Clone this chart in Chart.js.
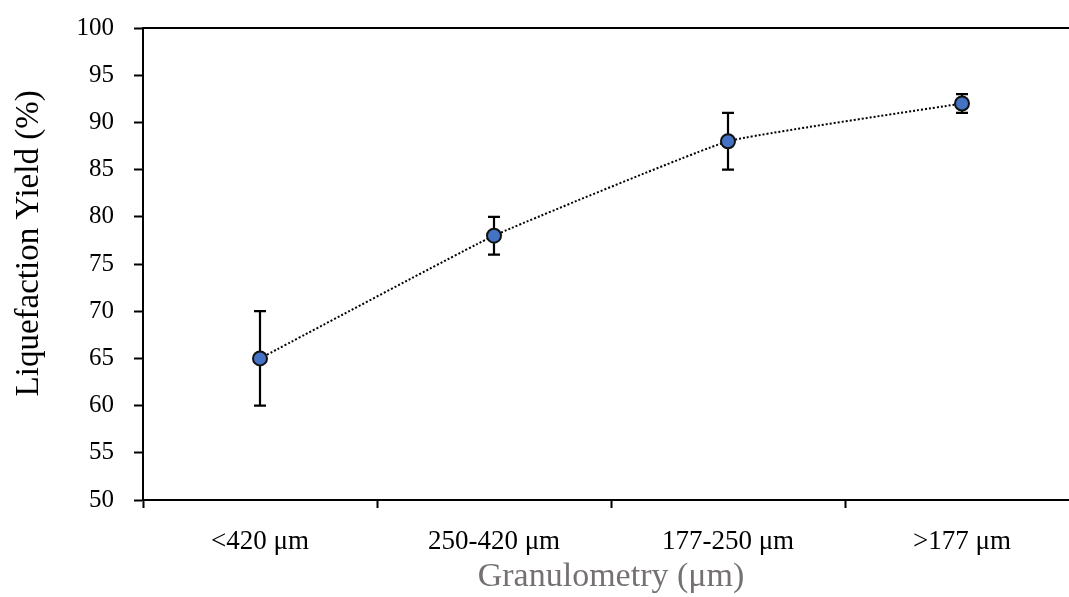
<!DOCTYPE html>
<html>
<head>
<meta charset="utf-8">
<script src="https://cdn.jsdelivr.net/npm/chart.js@4/dist/chart.umd.min.js"></script>
<style>
  html, body { margin: 0; padding: 0; overflow: hidden; background: #fff; }
  canvas { display: block; }
</style>
</head>
<body>
<canvas id="yieldChart" width="1088" height="597"></canvas>
<script>
const categories = ["<420 μm", "250-420 μm", "177-250 μm", ">177 μm"];
const yieldValues = [65, 78, 88, 92];
const yieldErrors = [5, 2, 3, 1];
const yTicks = [50, 55, 60, 65, 70, 75, 80, 85, 90, 95, 100];

const serif = "'Liberation Serif', 'Times New Roman', serif";

// vertical error bars drawn through the y scale
const errorBars = {
  id: "errorBars",
  beforeDatasetsDraw(chart) {
    const ctx = chart.ctx;
    const y = chart.scales.y;
    const meta = chart.getDatasetMeta(0);
    ctx.save();
    ctx.strokeStyle = "#000";
    ctx.lineWidth = 2.2;
    meta.data.forEach((pt, i) => {
      const top = y.getPixelForValue(yieldValues[i] + yieldErrors[i]);
      const bot = y.getPixelForValue(yieldValues[i] - yieldErrors[i]);
      ctx.beginPath();
      ctx.moveTo(pt.x, top);
      ctx.lineTo(pt.x, bot);
      ctx.moveTo(pt.x - 6, top);
      ctx.lineTo(pt.x + 6, top);
      ctx.moveTo(pt.x - 6, bot);
      ctx.lineTo(pt.x + 6, bot);
      ctx.stroke();
    });
    ctx.restore();
  }
};

function noPad(scale) {
  scale.paddingTop = 0;
  scale.paddingBottom = 0;
  scale.paddingLeft = 0;
  scale.paddingRight = 0;
}

new Chart(document.getElementById("yieldChart"), {
  type: "line",
  data: {
    labels: categories,
    datasets: [{
      data: yieldValues,
      borderColor: "#000",
      borderWidth: 2,
      borderDash: [2, 2],
      tension: 0.1,
      pointRadius: 7,
      pointHoverRadius: 7,
      pointBorderWidth: 2,
      pointBackgroundColor: "#4472C4",
      pointBorderColor: "#111"
    }]
  },
  options: {
    responsive: false,
    animation: false,
    layout: { padding: { top: 28, left: 0, right: 0, bottom: 0 } },
    plugins: {
      legend: { display: false },
      tooltip: { enabled: false }
    },
    scales: {
      x: {
        type: "category",
        offset: true,
        grid: {
          offset: true,
          drawOnChartArea: false,
          tickLength: 8,
          tickWidth: 2,
          tickColor: "#000"
        },
        border: { color: "#000", width: 2 },
        ticks: {
          color: "#000",
          padding: 18,
          font: { family: serif, size: 27 }
        },
        title: {
          display: true,
          text: "Granulometry (μm)",
          color: "#767171",
          padding: 0,
          font: { family: serif, size: 34 }
        },
        afterFit(scale) { scale.height = 97; noPad(scale); }
      },
      x2: {
        type: "category",
        position: "top",
        grid: { display: false },
        ticks: { display: false },
        border: { color: "#000", width: 2 },
        afterFit(scale) { scale.height = 0; noPad(scale); }
      },
      y: {
        min: 50,
        max: 100,
        afterBuildTicks(scale) {
          scale.ticks = yTicks.map(v => ({ value: v }));
        },
        grid: {
          drawOnChartArea: false,
          tickLength: 9,
          tickWidth: 2,
          tickColor: "#000"
        },
        border: { color: "#000", width: 2 },
        ticks: {
          color: "#000",
          padding: 20,
          font: { family: serif, size: 25 }
        },
        title: {
          display: true,
          // leading spaces nudge the rotated title upward like the original
          text: "     Liquefaction Yield (%)",
          color: "#000",
          padding: { top: 10, bottom: 0 },
          font: { family: serif, size: 33 }
        },
        afterFit(scale) { scale.width = 143; noPad(scale); }
      }
    }
  },
  plugins: [errorBars]
});
</script>
</body>
</html>
